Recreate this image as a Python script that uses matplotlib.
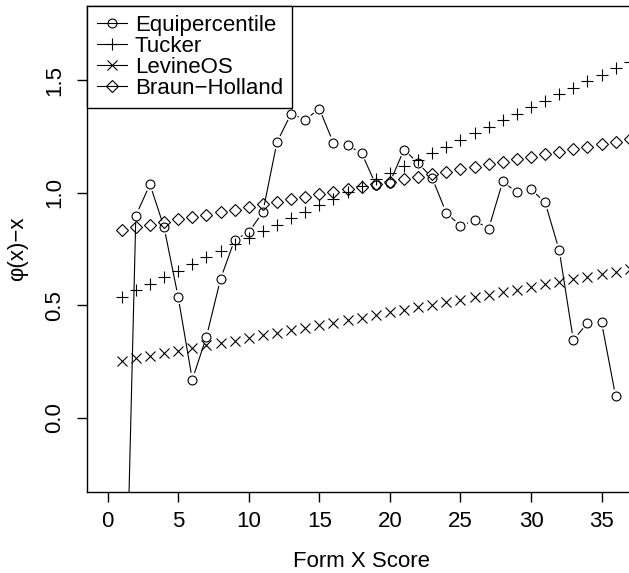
import numpy as np
import matplotlib
matplotlib.use("Agg")
import matplotlib.pyplot as plt

plt.rcParams["font.family"] = ["Liberation Sans", "DejaVu Sans"]

# puntajes de la forma X
score = list(range(1, 38))
score_eq = list(range(1, 37))

equipercentile = [-1.65, 0.898, 1.037, 0.846, 0.536, 0.169, 0.359, 0.616, 0.791, 0.824,
                  0.914, 1.224, 1.351, 1.324, 1.373, 1.221, 1.210, 1.176, 1.036, 1.045,
                  1.191, 1.132, 1.065, 0.910, 0.853, 0.877, 0.840, 1.050, 1.001, 1.015,
                  0.957, 0.744, 0.345, 0.421, 0.424, 0.095]
tucker = [0.538, 0.567, 0.596, 0.625, 0.654, 0.683, 0.712, 0.741, 0.770, 0.799,
          0.828, 0.857, 0.886, 0.915, 0.944, 0.973, 1.002, 1.031, 1.060, 1.089,
          1.118, 1.147, 1.176, 1.205, 1.234, 1.263, 1.292, 1.321, 1.350, 1.379,
          1.408, 1.437, 1.466, 1.495, 1.524, 1.553, 1.582]
levine_os = [0.253, 0.264, 0.276, 0.287, 0.298, 0.310, 0.321, 0.332, 0.343, 0.355,
             0.366, 0.377, 0.389, 0.400, 0.411, 0.423, 0.434, 0.445, 0.456, 0.468,
             0.479, 0.490, 0.502, 0.513, 0.524, 0.536, 0.547, 0.558, 0.569, 0.581,
             0.592, 0.603, 0.615, 0.626, 0.637, 0.649, 0.660]
braun_holland = [0.836, 0.847, 0.858, 0.870, 0.881, 0.892, 0.903, 0.914, 0.925, 0.937,
                 0.948, 0.959, 0.970, 0.981, 0.992, 1.004, 1.015, 1.026, 1.037, 1.048,
                 1.059, 1.070, 1.082, 1.093, 1.104, 1.115, 1.126, 1.138, 1.149, 1.160,
                 1.171, 1.182, 1.194, 1.205, 1.216, 1.227, 1.238]

x_ticks = [0, 5, 10, 15, 20, 25, 30, 35]
y_ticks = [0.0, 0.5, 1.0, 1.5]
y_tick_labels = ["0.0", "0.5", "1.0", "1.5"]

fs = 16
lw = 0.8

fig = plt.figure(figsize=(6.29, 5.73), dpi=100)
ax = fig.add_axes([0.1388, 0.1414, 0.8723, 0.8487])
ax.set_xlim(-1.44, 37.44)
ax.set_ylim(-0.330, 1.831)

# linea con huecos alrededor de cada punto (como type="b" de R)
gap = 7.5
pts = ax.transData.transform(np.column_stack([score_eq, equipercentile]))
inv = ax.transData.inverted()
for p0, p1 in zip(pts[:-1], pts[1:]):
    d = p1 - p0
    largo = np.hypot(*d)
    if largo <= 2 * gap:
        continue
    a = p0 + d / largo * gap
    b = p1 - d / largo * gap
    seg = inv.transform([a, b])
    ax.plot(seg[:, 0], seg[:, 1], color="black", lw=lw)

ax.plot(score_eq, equipercentile, "o", ls="none", ms=6.4, mfc="none", mec="black", mew=lw)
ax.plot(score, tucker, "+", ls="none", ms=8.8, mec="black", mew=lw)
ax.plot(score, levine_os, "x", ls="none", ms=6.6, mec="black", mew=lw)
ax.plot(score, braun_holland, "D", ls="none", ms=5.8, mfc="none", mec="black", mew=lw)

# leyenda
h_eq, = ax.plot([], [], "-o", color="black", lw=lw, ms=6.4, mfc="none", mew=lw)
h_tu, = ax.plot([], [], "-+", color="black", lw=lw, ms=8.8, mew=lw)
h_le, = ax.plot([], [], "-x", color="black", lw=lw, ms=6.6, mew=lw)
h_bh, = ax.plot([], [], "-D", color="black", lw=lw, ms=5.8, mfc="none", mew=lw)
leg = ax.legend([h_eq, h_tu, h_le, h_bh],
                ["Equipercentile", "Tucker", "LevineOS", "Braun\u2212Holland"],
                loc="upper left", bbox_to_anchor=(0, 1), borderaxespad=0,
                fancybox=False, edgecolor="black", framealpha=1, fontsize=fs,
                handlelength=1.35, handletextpad=0.36, labelspacing=0.0,
                borderpad=0.42)
leg.get_frame().set_linewidth(1.0)

ax.set_xticks(x_ticks)
ax.set_yticks(y_ticks)
ax.set_yticklabels(y_tick_labels, rotation=90, va="center")
ax.tick_params(direction="out", length=7.2, width=1.0, labelsize=fs, pad=6.5)
ax.tick_params(axis="y", pad=9)
for s in ax.spines.values():
    s.set_linewidth(1.0)

ax.set_xlabel("Form X Score", fontsize=fs, labelpad=14)
ax.set_ylabel("\u03c6(x)\u2212x", fontsize=fs, labelpad=11)

fig.savefig("out.png", dpi=100)
